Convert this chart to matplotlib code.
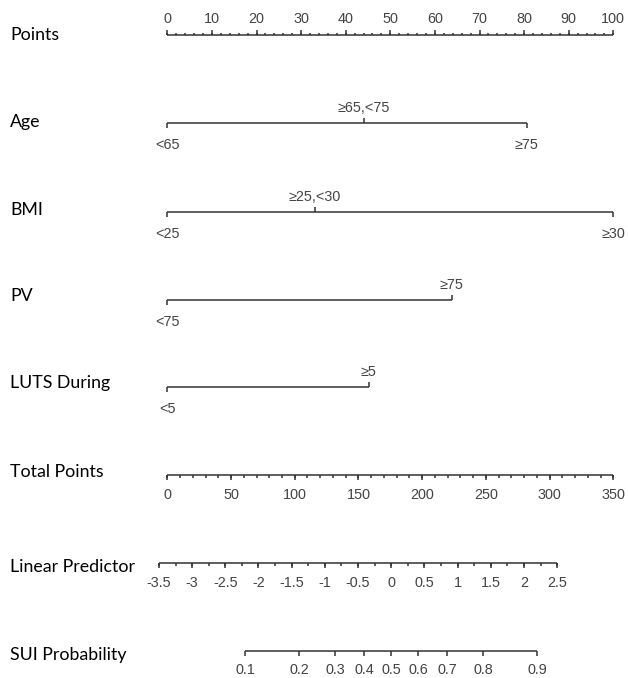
import numpy as np
import matplotlib
matplotlib.use("Agg")
import matplotlib.pyplot as plt

# ---------------- data ----------------
points_ticks = list(range(0, 101, 10))
points_minor = list(range(0, 101, 2))

age_levels = ["<65", "≥65,<75", "≥75"]
age_points = [0.0, 44.0, 80.6]

bmi_levels = ["<25", "≥25,<30", "≥30"]
bmi_points = [0.0, 33.1, 100.0]

pv_levels = ["<75", "≥75"]
pv_points = [0.0, 63.8]

luts_levels = ["<5", "≥5"]
luts_points = [0.0, 45.2]

total_ticks = list(range(0, 351, 50))
total_minor = list(range(0, 351, 10))
total_max = 350.0

lp_ticks = [-3.5, -3, -2.5, -2, -1.5, -1, -0.5, 0, 0.5, 1, 1.5, 2, 2.5]
lp_minor = list(np.arange(-3.5, 2.51, 0.25))
lp_zero_total = 175.7      # total points at linear predictor 0
total_per_lp = 52.08       # total points per unit of linear predictor

prob_ticks = [0.1, 0.2, 0.3, 0.4, 0.5, 0.6, 0.7, 0.8, 0.9]

# ---------------- scales ----------------
def total_to_x(tp):
    return np.asarray(tp, dtype=float) * 100.0 / total_max

def lp_to_x(lp):
    return total_to_x(lp_zero_total + total_per_lp * np.asarray(lp, dtype=float))

def prob_to_x(p):
    p = np.asarray(p, dtype=float)
    return lp_to_x(np.log(p / (1 - p)))

# ---------------- figure ----------------
W, H = 628, 678
fig = plt.figure(figsize=(W / 100, H / 100), dpi=100)
ax = fig.add_axes([0, 0, 1, 1])
PX0, PXU = 167.3, 4.46  # pixel of 0 points, pixels per point
ax.set_xlim(-PX0 / PXU, (W - PX0) / PXU)
ax.set_ylim(H, 0)
ax.axis("off")

LINE = "#333333"
TXT = "#444444"
TICKFONT = dict(family=["Liberation Sans", "DejaVu Sans"], fontsize=10.4, color=TXT)
LABFONT = dict(family=["Lato", "DejaVu Sans"], fontsize=12.8, color="#000000")
LABEL_X = (10 - PX0) / PXU
LW = 1.1

def hline(x0, x1, y):
    ax.plot([x0, x1], [y, y], color=LINE, lw=LW, solid_capstyle="butt")

def ticks(xs, y, length, up):
    for x in np.atleast_1d(xs):
        ax.plot([x, x], [y, y - length if up else y + length], color=LINE, lw=LW,
                solid_capstyle="butt")

def row_label(text, y):
    ax.text(LABEL_X, y, text, ha="left", va="center", **LABFONT)

# Points axis
yP = 35
row_label("Points", 35)
hline(0, 100, yP)
ticks(points_minor, yP, 2.5, True)
ticks(points_ticks, yP, 5, True)
for t in points_ticks:
    ax.text(t, yP - 16, str(t), ha="center", va="center", **TICKFONT)

# categorical rows
def cat_row(name, levels, pts, y, ylab):
    row_label(name, ylab)
    hline(min(pts), max(pts), y)
    for i, (lv, p) in enumerate(zip(levels, pts)):
        up = (i % 2 == 1)
        ticks([p], y, 5, up)
        ax.text(p, y - 15 if up else y + 22, lv, ha="center", va="center", **TICKFONT)

cat_row("Age", age_levels, age_points, 123, 122)
cat_row("BMI", bmi_levels, bmi_points, 212, 210)
cat_row("PV", pv_levels, pv_points, 300, 296)
cat_row("LUTS During", luts_levels, luts_points, 387, 383)

# Total points
yT = 475
row_label("Total Points", 472)
hline(total_to_x(0), total_to_x(total_max), yT)
ticks(total_to_x(total_minor), yT, 2.5, False)
ticks(total_to_x(total_ticks), yT, 5, False)
for t in total_ticks:
    ax.text(float(total_to_x(t)), yT + 20, str(t), ha="center", va="center", **TICKFONT)

# Linear predictor
yL = 563
row_label("Linear Predictor", 567)
hline(float(lp_to_x(lp_ticks[0])), float(lp_to_x(lp_ticks[-1])), yL)
ticks(lp_to_x(lp_minor), yL, 2.5, False)
ticks(lp_to_x(lp_ticks), yL, 5, False)
for t in lp_ticks:
    lab = ("%g" % t)
    ax.text(float(lp_to_x(t)), yL + 20, lab, ha="center", va="center", **TICKFONT)

# SUI probability
yS = 651
row_label("SUI Probability", 655)
hline(float(prob_to_x(prob_ticks[0])), float(prob_to_x(prob_ticks[-1])), yS)
ticks(prob_to_x(prob_ticks), yS, 5, False)
for t in prob_ticks:
    ax.text(float(prob_to_x(t)), yS + 19, "%g" % t, ha="center", va="center", **TICKFONT)

fig.savefig("out.png", dpi=100, facecolor="white")
